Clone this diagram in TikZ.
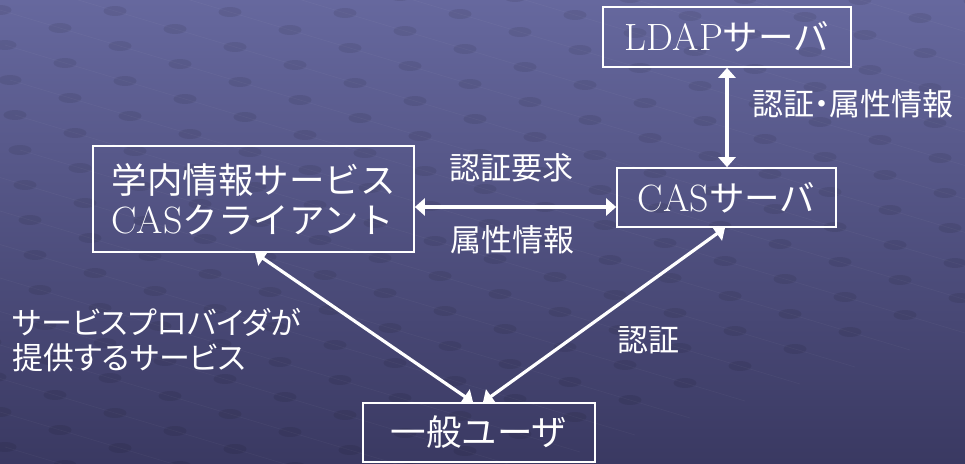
\documentclass[tikz,border=0pt]{standalone}
\usepackage{fontspec}
\newfontfamily\jp{Noto Sans CJK JP}
\newfontfamily\jpp{Noto Sans CJK JP}[RawFeature=+palt]
\usetikzlibrary{arrows.meta}
\begin{document}
\begin{tikzpicture}[x=1pt,y=-1pt,
  box/.style={draw=white, line width=1.7pt, inner sep=0pt, text=white,
    font=\fontsize{38}{42}\selectfont},
  lbl/.style={text=white, inner sep=0pt, font=\jpp\fontsize{31}{36}\selectfont},
  arr/.style={draw=white, line width=3.2pt, {Triangle[length=10pt,width=17pt]}-{Triangle[length=10pt,width=17pt]}}]
\useasboundingbox (0,0) rectangle (965,463);
\shade[shading angle=160, top color={rgb,255:red,102;green,104;blue,158}, bottom color={rgb,255:red,58;green,57;blue,98}] (0,0) rectangle (965,463);
\begin{scope}
\clip (0,0) rectangle (965,463);
\foreach \i in {-12,...,14}{
  \foreach \j in {-14,...,14}{
    \pgfmathsetmacro{\px}{65+60*\i+55*\j}
    \pgfmathsetmacro{\py}{63+18*\i-17*\j}
    \ifdim \px pt>-40pt \ifdim \px pt<1010pt \ifdim \py pt>-20pt \ifdim \py pt<490pt
      \fill[black, opacity=0.08] (\px,\py) ellipse [x radius=11.5, y radius=5];
      \draw[white, opacity=0.04, line width=0.6pt] (\px,\py) -- ++(60,18);
    \fi\fi\fi\fi
  }
}
\end{scope}
\node[box, minimum width=248pt, minimum height=60pt] (ldap) at (727,37) {LDAP{\jp\fontsize{35.5}{40}\selectfont サーバ}};
\node[box, minimum width=219pt, minimum height=59pt] (cas) at (726.5,197.5) {CAS{\jp\fontsize{35.5}{40}\selectfont サーバ}};
\node[box, minimum width=321pt, minimum height=106pt, align=left] (cli) at (253.5,199)
  {{\jp\fontsize{35.5}{40}\selectfont 学内情報サービス}\\[-2pt]CAS{\jp\fontsize{35.5}{40}\selectfont クライアント}};
\node[box, minimum width=232pt, minimum height=59pt, font=\jp\fontsize{35.5}{40}\selectfont] (usr) at (479,432.5) {一般ユーザ};
\draw[arr] (ldap.south) -- (ldap.south |- cas.north);
\draw[arr] ([yshift=-8pt]cli.east) -- ([yshift=-8pt]cli.east -| cas.west);
\draw[arr] ([xshift=1.5pt]cli.south) -- ([xshift=-6pt]usr.north);
\draw[arr] ([xshift=-1.5pt]cas.south) -- ([xshift=4pt]usr.north);
\node[lbl, anchor=west] (l1) at (752,104) {認証・属性情報};
\node[lbl] (l2) at (511,168) {認証要求};
\node[lbl] (l3) at (512,240) {属性情報};
\node[lbl, anchor=west, align=left] (l4) at (12,340) {サービスプロバイダが\\[-1pt]提供するサービス};
\node[lbl] (l5) at (648,340) {認証};
\end{tikzpicture}
\end{document}
